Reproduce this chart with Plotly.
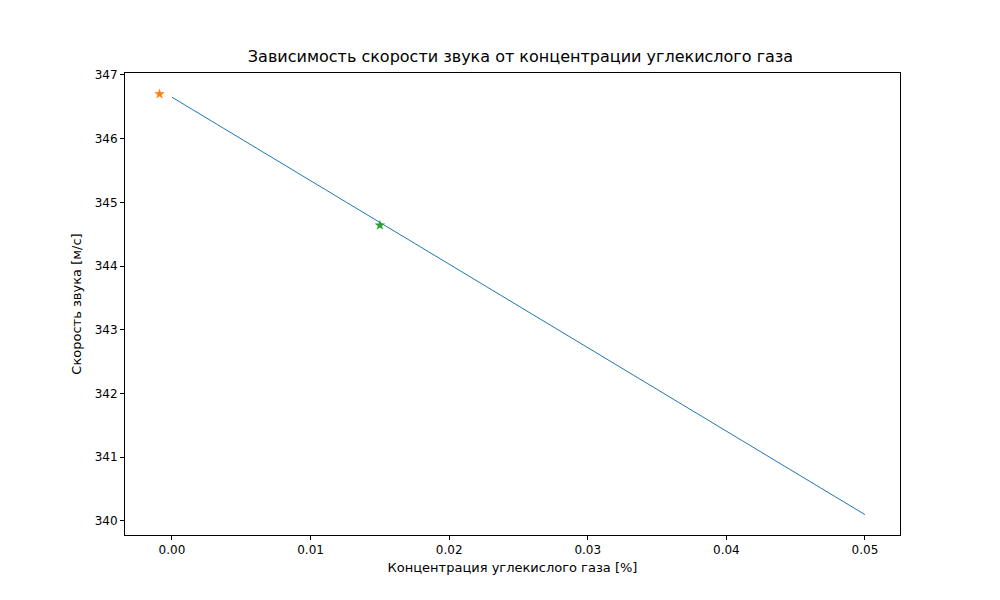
import plotly.graph_objects as go

conc = [0.0, 0.01, 0.02, 0.03, 0.04, 0.05]
speed = [346.65, 345.34, 344.02, 342.71, 341.40, 340.10]
star1_x, star1_y = [-0.0009], [346.70]
star2_x, star2_y = [0.015], [344.64]

fig = go.Figure()
fig.add_trace(go.Scatter(x=conc, y=speed, mode="lines", line=dict(color="#1f77b4", width=1)))
fig.add_trace(go.Scatter(x=star1_x, y=star1_y, mode="markers",
                         marker=dict(symbol="star", color="#ff7f0e", size=8)))
fig.add_trace(go.Scatter(x=star2_x, y=star2_y, mode="markers",
                         marker=dict(symbol="star", color="#2ca02c", size=8)))

axis_common = dict(showgrid=False, zeroline=False, showline=True, linecolor="black",
                   linewidth=1, mirror=True, ticks="outside", ticklen=4,
                   tickcolor="black", tickfont=dict(size=12, color="black"))
fig.update_layout(
    width=1000, height=600, showlegend=False,
    paper_bgcolor="white", plot_bgcolor="white",
    margin=dict(l=117, r=108, t=65, b=73),
    font=dict(family="DejaVu Sans", color="black"),
    title=dict(text="Зависимость скорости звука от концентрации углекислого газа",
               x=0.5125, xanchor="center", y=0.91, yanchor="bottom", font=dict(size=16)),
    xaxis=dict(range=[-0.00339, 0.05253], tickvals=[0, 0.01, 0.02, 0.03, 0.04, 0.05],
               ticktext=["0.00", "0.01", "0.02", "0.03", "0.04", "0.05"],
               title=dict(text="Концентрация углекислого газа [%]", font=dict(size=13), standoff=6),
               **axis_common),
    yaxis=dict(range=[339.78, 347.03], tickvals=[340, 341, 342, 343, 344, 345, 346, 347],
               title=dict(text="Скорость звука [м/с]", font=dict(size=13), standoff=10),
               **axis_common),
)
fig.write_html("out.html")
